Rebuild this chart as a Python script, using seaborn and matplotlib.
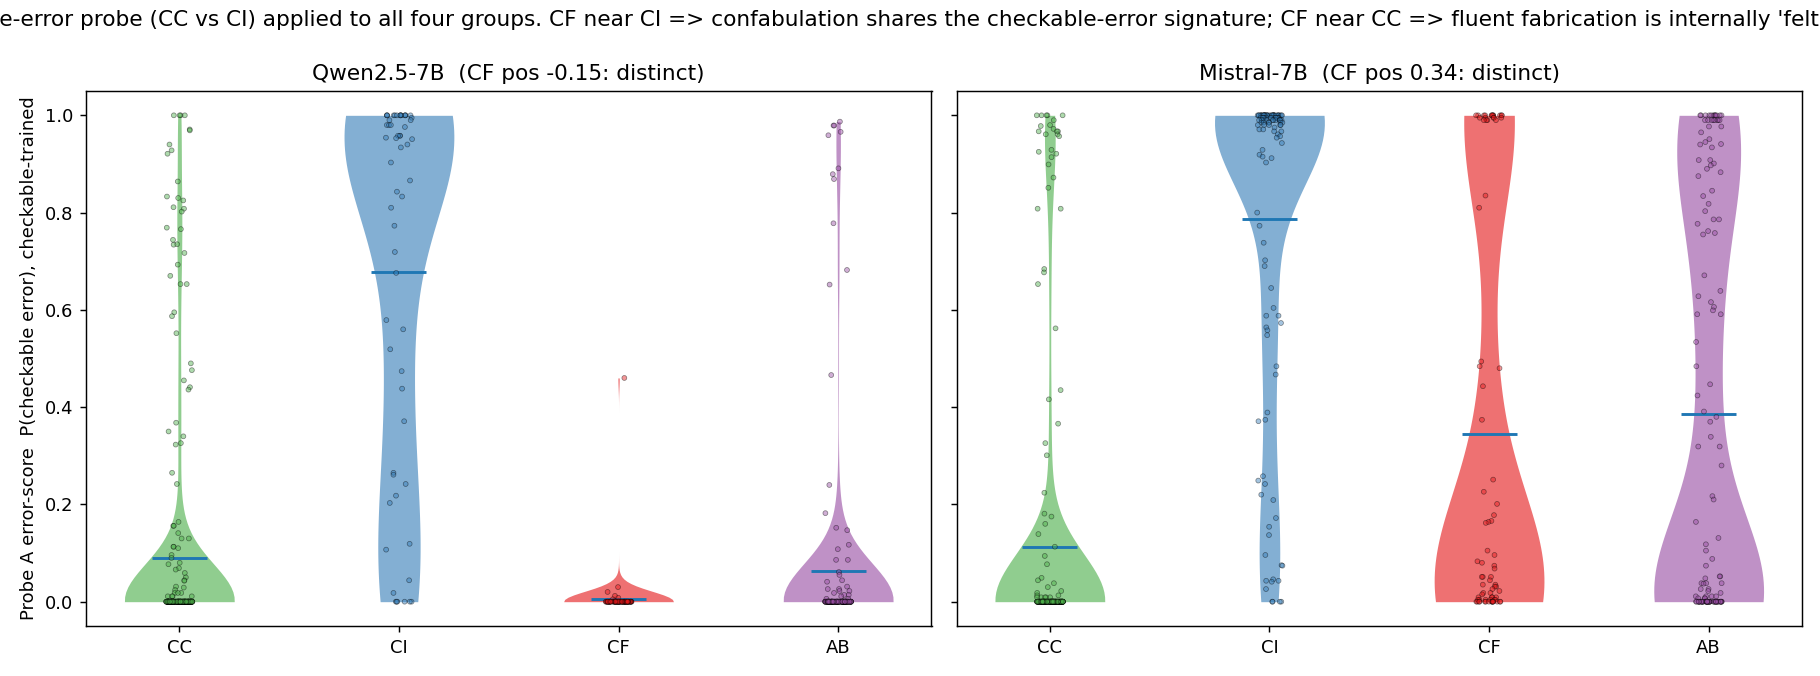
import numpy as np
import pandas as pd
import matplotlib
matplotlib.use("Agg")
import matplotlib.pyplot as plt
import seaborn as sns

# ---------------- data ----------------
GROUPS = ["CC", "CI", "CF", "AB"]
COLORS = ["#4daf4a", "#377eb8", "#e41a1c", "#984ea3"]
MODEL_TITLES = ["Qwen2.5-7B  (CF pos -0.15: distinct)", "Mistral-7B  (CF pos 0.34: distinct)"]

SUPTITLE = ("Probe A: checkable-error probe (CC vs CI) applied to all four groups. "
            "CF near CI => confabulation shares the checkable-error signature; "
            "CF near CC => fluent fabrication is internally 'felt' as correct, as CC")
YLABEL = "Probe A error-score  P(checkable error), checkable-trained"

# Non-zero scores read from the jittered points, plus the number of points stacked at 0.
QWEN_CC = [1.0, 1.0, 1.0, 1.0, 0.971, 0.969, 0.940, 0.928, 0.921, 0.864, 0.833, 0.830,
           0.825, 0.811, 0.808, 0.802, 0.769, 0.766, 0.744, 0.735, 0.734, 0.717, 0.693,
           0.670, 0.653, 0.653, 0.595, 0.587, 0.552, 0.490, 0.476, 0.455, 0.441, 0.436,
           0.368, 0.350, 0.340, 0.326, 0.323, 0.265, 0.242, 0.164, 0.156, 0.156, 0.141,
           0.130, 0.130, 0.113, 0.113, 0.110, 0.096, 0.090, 0.080, 0.077, 0.069, 0.066,
           0.059, 0.050, 0.044, 0.043, 0.031, 0.029, 0.024, 0.018, 0.018, 0.018, 0.011,
           0.011, 0.011, 0.011]
QWEN_CC_ZEROS = 263

QWEN_CI = [1.0, 1.0, 1.0, 1.0, 1.0, 1.0, 1.0, 1.0, 1.0, 1.0, 1.0, 1.0, 1.0, 1.0,
           0.995, 0.990, 0.990, 0.980, 0.980, 0.980, 0.976, 0.958, 0.958, 0.958, 0.954,
           0.953, 0.951, 0.940, 0.934, 0.903, 0.866, 0.843, 0.833, 0.810, 0.773, 0.719,
           0.676, 0.579, 0.560, 0.519, 0.474, 0.438, 0.371, 0.265, 0.261, 0.242, 0.218,
           0.203, 0.119, 0.107, 0.044, 0.018]
QWEN_CI_ZEROS = 6

QWEN_CF = [0.460, 0.030, 0.020, 0.012, 0.008, 0.005]
QWEN_CF_ZEROS = 78

QWEN_AB = [0.987, 0.979, 0.979, 0.966, 0.959, 0.891, 0.879, 0.869, 0.778, 0.682, 0.652,
           0.466, 0.240, 0.182, 0.152, 0.147, 0.117, 0.108, 0.086, 0.086, 0.061, 0.055,
           0.044, 0.041, 0.031, 0.026, 0.026, 0.022, 0.022, 0.018, 0.014, 0.014, 0.011,
           0.006, 0.006]
QWEN_AB_ZEROS = 149

MISTRAL_CC = [1.0, 1.0, 1.0, 1.0, 1.0, 0.990, 0.980, 0.978, 0.972, 0.967, 0.967, 0.967,
              0.961, 0.961, 0.957, 0.929, 0.925, 0.921, 0.914, 0.899, 0.872, 0.851, 0.808,
              0.808, 0.684, 0.677, 0.653, 0.562, 0.435, 0.416, 0.366, 0.326, 0.301, 0.224,
              0.181, 0.175, 0.160, 0.139, 0.113, 0.094, 0.077, 0.049, 0.044, 0.038, 0.030,
              0.022, 0.018, 0.013, 0.013, 0.009, 0.009, 0.009, 0.009, 0.009]
MISTRAL_CC_ZEROS = 198

MISTRAL_CI = [1.0, 1.0, 1.0, 1.0, 1.0, 1.0, 1.0, 1.0, 1.0, 1.0, 1.0, 1.0, 1.0, 1.0, 1.0,
              1.0, 1.0, 1.0, 1.0, 1.0, 1.0, 1.0, 1.0, 1.0, 1.0, 1.0, 1.0, 1.0, 1.0, 1.0,
              1.0, 1.0, 1.0, 1.0, 1.0,
              0.995, 0.995, 0.995, 0.995, 0.995, 0.995, 0.995, 0.995, 0.995, 0.995, 0.995,
              0.995, 0.995, 0.995, 0.995,
              0.990, 0.990, 0.990, 0.990, 0.990, 0.990, 0.990, 0.990, 0.990, 0.990, 0.990,
              0.990, 0.985, 0.985, 0.985, 0.985, 0.985, 0.985, 0.980, 0.980, 0.980, 0.980,
              0.980,
              0.975, 0.971, 0.971, 0.967, 0.967, 0.961, 0.957, 0.954, 0.943, 0.929, 0.919,
              0.915, 0.912, 0.903, 0.800, 0.773, 0.738, 0.702, 0.690, 0.645, 0.604, 0.588,
              0.588, 0.573, 0.564, 0.558, 0.548, 0.484, 0.467, 0.389, 0.374, 0.371, 0.258,
              0.249, 0.242, 0.220, 0.209, 0.172, 0.154, 0.137, 0.096, 0.075, 0.074, 0.046,
              0.043, 0.043, 0.041, 0.026]
MISTRAL_CI_ZEROS = 4

MISTRAL_CF = [1.0, 1.0, 1.0, 1.0, 1.0, 1.0, 1.0, 1.0, 1.0, 1.0, 1.0, 1.0,
              0.995, 0.995, 0.995, 0.995, 0.995, 0.990, 0.990, 0.990, 0.990,
              0.835, 0.810, 0.494, 0.484, 0.480, 0.443, 0.374, 0.251, 0.226, 0.201, 0.178,
              0.166, 0.164, 0.162, 0.105, 0.096, 0.083, 0.080, 0.074, 0.068, 0.051, 0.051,
              0.051, 0.044, 0.035, 0.035, 0.031, 0.031, 0.026, 0.022, 0.018, 0.018, 0.015,
              0.009, 0.009, 0.009, 0.009, 0.004, 0.004, 0.004, 0.004, 0.004, 0.004]
MISTRAL_CF_ZEROS = 15

MISTRAL_AB = [1.0, 1.0, 1.0, 1.0, 1.0, 1.0, 1.0, 1.0, 1.0, 1.0, 1.0, 1.0,
              0.990, 0.990, 0.990, 0.990, 0.990, 0.990, 0.990, 0.990,
              0.977, 0.977, 0.965, 0.951, 0.945, 0.941, 0.940, 0.934, 0.908, 0.908, 0.901,
              0.897, 0.890, 0.883, 0.875, 0.845, 0.834, 0.818, 0.803, 0.786, 0.786, 0.777,
              0.762, 0.758, 0.755, 0.671, 0.639, 0.628, 0.616, 0.606, 0.599, 0.591, 0.591,
              0.534, 0.484, 0.447, 0.424, 0.391, 0.380, 0.370, 0.339, 0.319, 0.319, 0.280,
              0.217, 0.210, 0.164, 0.131, 0.118, 0.105, 0.088, 0.074, 0.052, 0.052, 0.048,
              0.038, 0.038, 0.038, 0.037, 0.026, 0.026, 0.022, 0.018, 0.011, 0.011, 0.011,
              0.011, 0.007, 0.007, 0.007]
MISTRAL_AB_ZEROS = 46

MODELS = [
    {"CC": (QWEN_CC, QWEN_CC_ZEROS), "CI": (QWEN_CI, QWEN_CI_ZEROS),
     "CF": (QWEN_CF, QWEN_CF_ZEROS), "AB": (QWEN_AB, QWEN_AB_ZEROS)},
    {"CC": (MISTRAL_CC, MISTRAL_CC_ZEROS), "CI": (MISTRAL_CI, MISTRAL_CI_ZEROS),
     "CF": (MISTRAL_CF, MISTRAL_CF_ZEROS), "AB": (MISTRAL_AB, MISTRAL_AB_ZEROS)},
]


def long_frame(model):
    rows = []
    for g in GROUPS:
        vals, nzero = model[g]
        for v in list(vals) + [0.0] * nzero:
            rows.append((g, v))
    return pd.DataFrame(rows, columns=["group", "score"])


# ---------------- figure ----------------
np.random.seed(3)
fig, axes = plt.subplots(1, 2, figsize=(14, 5.2), dpi=130, sharey=True)
fig.subplots_adjust(left=86 / 1820, right=1802 / 1820, bottom=1 - 626 / 676,
                    top=1 - 91 / 676, wspace=25 / 845.5)

for ax, model, title in zip(axes, MODELS, MODEL_TITLES):
    df = long_frame(model)
    sns.violinplot(data=df, x="group", y="score", hue="group", order=GROUPS,
                   hue_order=GROUPS, palette=COLORS, cut=0, inner=None,
                   density_norm="width", width=0.5, linewidth=0, saturation=1,
                   alpha=0.62, legend=False, ax=ax)
    means = df.groupby("group")["score"].mean().reindex(GROUPS).to_numpy()
    pos = np.arange(len(GROUPS))
    ax.hlines(means, pos - 0.125, pos + 0.125, color="#1f77b4", lw=1.6, zorder=3)
    sns.stripplot(data=df, x="group", y="score", hue="group", order=GROUPS,
                  hue_order=GROUPS, palette=COLORS, jitter=0.06, size=2.7,
                  alpha=0.45, edgecolor="k", linewidth=0.4, legend=False,
                  zorder=4, ax=ax)
    ax.set_xlim(-0.425, 3.425)
    ax.set_ylim(-0.05, 1.05)
    ax.set_xlabel("")
    ax.set_ylabel("")
    ax.set_title(title, fontsize=12)

axes[0].set_ylabel(YLABEL, fontsize=10)
fig.suptitle(SUPTITLE, fontsize=12, y=0.985)

fig.savefig("out.png", dpi=130)
